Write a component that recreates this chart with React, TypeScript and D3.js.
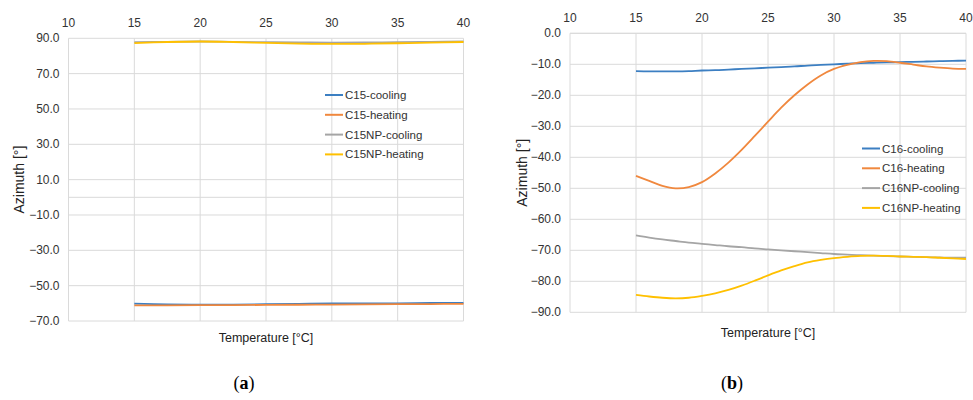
import React, { useEffect, useRef } from "react";
import * as d3 from "d3";

// panel (a): C15 samples, sampled every 2.5 °C
const tempsA = [15, 17.5, 20, 22.5, 25, 27.5, 30, 32.5, 35, 37.5, 40];
const c15Cooling = [-60.2, -60.6, -60.8, -60.7, -60.5, -60.3, -60.1, -60.0, -60.0, -59.8, -59.7];
const c15Heating = [-61.2, -61.1, -61.0, -61.0, -60.9, -60.8, -60.7, -60.6, -60.5, -60.4, -60.3];
const c15NPCooling = [87.8, 88.0, 88.2, 88.0, 87.8, 87.7, 87.6, 87.7, 87.8, 88.0, 88.2];
const c15NPHeating = [87.3, 87.9, 88.2, 87.9, 87.4, 87.0, 86.8, 86.9, 87.2, 87.5, 87.9];

// panel (b): C16 samples, every 1 °C
const tempsB = [15, 16, 17, 18, 19, 20, 21, 22, 23, 24, 25, 26, 27, 28, 29, 30, 31, 32, 33, 34, 35, 36, 37, 38, 39, 40];
const c16Cooling = [-12.2, -12.3, -12.3, -12.3, -12.2, -12.0, -11.9, -11.7, -11.5, -11.3, -11.1, -10.9, -10.7, -10.4, -10.2, -10.0, -9.8, -9.6, -9.5, -9.4, -9.3, -9.2, -9.1, -9.0, -8.9, -8.8];
const c16Heating = [-46.0, -47.6, -49.2, -50.0, -49.6, -48.0, -45.2, -41.7, -37.6, -33.1, -28.5, -24.0, -20.0, -16.5, -13.6, -11.5, -10.2, -9.3, -8.9, -9.0, -9.5, -10.1, -10.7, -11.1, -11.4, -11.5];
const c16NPCooling = [-65.2, -65.9, -66.5, -67.0, -67.5, -67.9, -68.3, -68.7, -69.0, -69.4, -69.7, -70.0, -70.3, -70.6, -70.9, -71.2, -71.4, -71.6, -71.7, -71.9, -72.0, -72.1, -72.2, -72.3, -72.4, -72.4];
const c16NPHeating = [-84.4, -84.9, -85.3, -85.5, -85.3, -84.7, -83.9, -82.8, -81.4, -79.8, -78.1, -76.5, -75.1, -73.9, -73.1, -72.5, -72.1, -71.8, -71.7, -71.8, -72.0, -72.1, -72.2, -72.4, -72.6, -72.8];

const xTicks = [10, 15, 20, 25, 30, 35, 40];
const yTicksA = [90, 70, 50, 30, 10, -10, -30, -50, -70];
const yTicksB = [0, -10, -20, -30, -40, -50, -60, -70, -80, -90];

const colors = ["#3c7fc2", "#f0883e", "#a5a5a5", "#ffc000"];
const font = "'Liberation Sans', Arial, sans-serif";

const panels = [
  {
    temps: tempsA,
    series: [
      { name: "C15-cooling", values: c15Cooling },
      { name: "C15-heating", values: c15Heating },
      { name: "C15NP-cooling", values: c15NPCooling },
      { name: "C15NP-heating", values: c15NPHeating },
    ],
    yTicks: yTicksA,
    yDomain: [-70, 90],
    x: [68.5, 463.5],
    y: [321, 38.3],
    legend: [325, 95],
    xTitleY: 342,
    yTitleX: 24,
    label: "a",
    labelX: 244,
  },
  {
    temps: tempsB,
    series: [
      { name: "C16-cooling", values: c16Cooling },
      { name: "C16-heating", values: c16Heating },
      { name: "C16NP-cooling", values: c16NPCooling },
      { name: "C16NP-heating", values: c16NPHeating },
    ],
    yTicks: yTicksB,
    yDomain: [-90, 0],
    x: [570, 966],
    y: [312.3, 33.3],
    legend: [862, 148.5],
    xTitleY: 337,
    yTitleX: 527,
    label: "b",
    labelX: 732,
  },
];

const Panel = ({ p }) => {
  const ref = useRef(null);

  useEffect(() => {
    const g = d3.select(ref.current);
    g.selectAll("*").remove();

    const x = d3.scaleLinear().domain([10, 40]).range(p.x);
    const y = d3.scaleLinear().domain(p.yDomain).range(p.y);

    // grid
    g.selectAll("line.h")
      .data(p.yTicks.concat([0]))
      .enter()
      .append("line")
      .attr("x1", p.x[0])
      .attr("x2", p.x[1])
      .attr("y1", d => y(d))
      .attr("y2", d => y(d))
      .attr("stroke", "#dadada")
      .attr("stroke-width", 1);

    g.selectAll("line.v")
      .data(xTicks)
      .enter()
      .append("line")
      .attr("x1", d => x(d))
      .attr("x2", d => x(d))
      .attr("y1", p.y[0])
      .attr("y2", p.y[1])
      .attr("stroke", "#dadada")
      .attr("stroke-width", 1);

    // x labels on top
    g.selectAll("text.xt")
      .data(xTicks)
      .enter()
      .append("text")
      .attr("x", d => x(d))
      .attr("y", p.y[1] - 11)
      .attr("text-anchor", "middle")
      .attr("font-size", 12)
      .attr("font-family", font)
      .attr("fill", "#333")
      .text(d => d);

    g.selectAll("text.yt")
      .data(p.yTicks)
      .enter()
      .append("text")
      .attr("x", p.x[0] - 9)
      .attr("y", d => y(d) + 4)
      .attr("text-anchor", "end")
      .attr("font-size", 12)
      .attr("font-family", font)
      .attr("fill", "#333")
      .text(d => d3.format(".1f")(d));

    const line = d3
      .line()
      .x(d => x(d[0]))
      .y(d => y(d[1]))
      .curve(d3.curveCatmullRom.alpha(0.5));

    p.series.forEach((s, i) => {
      g.append("path")
        .attr("d", line(p.temps.map((t, j) => [t, s.values[j]])))
        .attr("fill", "none")
        .attr("stroke", colors[i])
        .attr("stroke-width", 1.8);
    });

    // legend
    const leg = g.selectAll("g.leg")
      .data(p.series)
      .enter()
      .append("g")
      .attr("transform", (d, i) => `translate(${p.legend[0]},${p.legend[1] + i * 19.8})`);
    leg.append("line")
      .attr("x1", 0)
      .attr("x2", 18)
      .attr("stroke", (d, i) => colors[i])
      .attr("stroke-width", 2);
    leg.append("text")
      .attr("x", 20)
      .attr("y", 4)
      .attr("font-size", 11.5)
      .attr("font-family", font)
      .attr("fill", "#333")
      .text(d => d.name);

    // axis titles
    g.append("text")
      .attr("x", (p.x[0] + p.x[1]) / 2)
      .attr("y", p.xTitleY)
      .attr("text-anchor", "middle")
      .attr("font-size", 12.5)
      .attr("font-family", font)
      .attr("fill", "#222")
      .text("Temperature [°C]");

    g.append("text")
      .attr("transform", `translate(${p.yTitleX},${(p.y[0] + p.y[1]) / 2}) rotate(-90)`)
      .attr("text-anchor", "middle")
      .attr("font-size", 14)
      .attr("font-family", font)
      .attr("fill", "#222")
      .text("Azimuth [°]");

    const lab = g.append("text")
      .attr("x", p.labelX)
      .attr("y", 389)
      .attr("text-anchor", "middle")
      .attr("font-size", 18)
      .attr("font-family", "'Liberation Serif', serif")
      .attr("fill", "#000");
    lab.append("tspan").text("(");
    lab.append("tspan").attr("font-weight", "bold").text(p.label);
    lab.append("tspan").text(")");
  }, [p]);

  return <g ref={ref} />;
};

const App = () => {
  return (
    <svg
      width={973}
      height={400}
      style={{ position: "absolute", left: 0, top: 0, background: "#fff" }}
    >
      {panels.map(p => (
        <Panel key={p.label} p={p} />
      ))}
    </svg>
  );
};

export default App;
